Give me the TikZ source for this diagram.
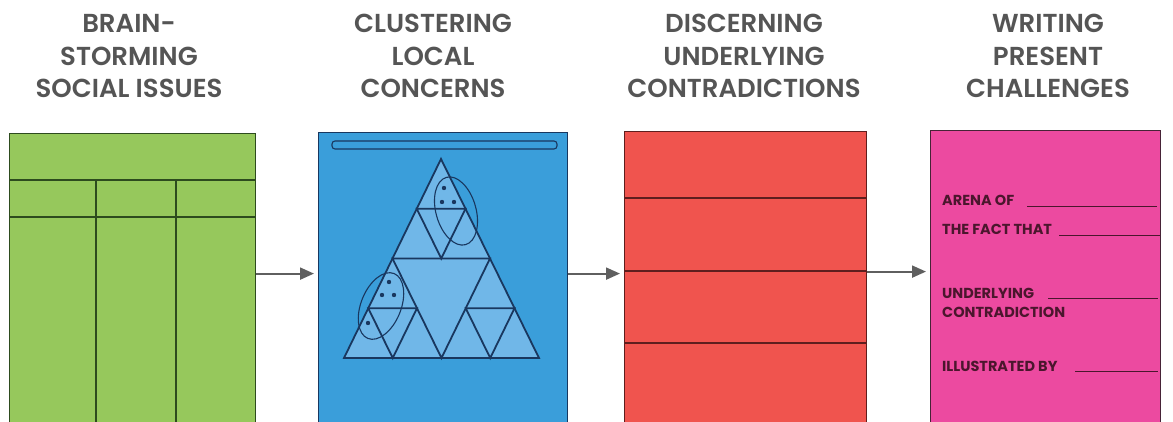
\documentclass[tikz,border=0pt]{standalone}
\usepackage{fontspec}
\newfontfamily\headfont{Poppins SemiBold}
\newfontfamily\formfont{Poppins Bold}
\usetikzlibrary{arrows.meta,calc,positioning}
\definecolor{brgreen}{RGB}{150,200,92}
\definecolor{brline}{RGB}{45,75,30}
\definecolor{clblue}{RGB}{58,158,218}
\definecolor{clline}{RGB}{25,55,95}
\definecolor{triblue}{RGB}{112,183,232}
\definecolor{dcred}{RGB}{240,84,78}
\definecolor{dcline}{RGB}{95,30,30}
\definecolor{wpmagenta}{RGB}{236,74,160}
\definecolor{wpline}{RGB}{70,35,55}
\definecolor{formtext}{RGB}{75,22,45}
\definecolor{headgray}{RGB}{85,85,85}
\definecolor{arrowgray}{RGB}{95,95,95}
\begin{document}
\begin{tikzpicture}[x=1pt, y=-1pt,
    heading/.style={font=\headfont\fontsize{26}{32.5}\selectfont, text=headgray, align=center, anchor=base, inner sep=0pt},
    panel/.style={rectangle, draw, line width=1.2pt, minimum width=#1, minimum height=300pt, anchor=north west, inner sep=0pt},
    grid/.style={line width=1.2pt},
    trim/.style={draw=clline, line width=1.8pt},
    ring/.style={draw=clline, line width=1.1pt},
    formlabel/.style={font=\formfont\fontsize{14.5}{19}\selectfont, text=formtext, align=left, anchor=base west, inner sep=0pt},
    blank/.style={draw=formtext, line width=0.9pt},
    arrow/.style={-{Triangle[length=14pt,width=12pt]}, line width=2pt, draw=arrowgray, shorten >=4pt}
]
\clip (0,0) rectangle (1173,422);
% headings (base = last line)
\node[heading] (h1) at (129,98) {BRAIN-\\STORMING\\SOCIAL ISSUES};
\node[heading] (h2) at (433,98) {CLUSTERING\\LOCAL\\CONCERNS};
\node[heading] (h3) at (744,98) {DISCERNING\\UNDERLYING\\CONTRADICTIONS};
\node[heading] (h4) at (1048,98) {WRITING\\PRESENT\\CHALLENGES};
% panels
\node[panel=246pt, fill=brgreen, draw=brline] (brain) at (9,133) {};
\node[panel=249pt, fill=clblue, draw=clline] (cluster) at (318,132) {};
\node[panel=242pt, fill=dcred, draw=dcline] (discern) at (624,131) {};
\node[panel=230pt, fill=wpmagenta, draw=wpline] (write) at (930,130) {};
% brainstorm table
\draw[grid, draw=brline] (9,180) -- (255,180);
\draw[grid, draw=brline] (9,217) -- (255,217);
\draw[grid, draw=brline] (96,180) -- (96,430);
\draw[grid, draw=brline] (176,180) -- (176,430);
% clusters
\draw[ring, fill=clblue, rounded corners=3pt] (332,141) rectangle (557,149);
\coordinate (A) at (441,159);
\coordinate (B) at (344,358);
\coordinate (C) at (539,358);
\coordinate (ab) at ($(A)!.5!(B)$);
\coordinate (ac) at ($(A)!.5!(C)$);
\coordinate (bc) at ($(B)!.5!(C)$);
\filldraw[trim, fill=triblue] (A) -- (B) -- (C) -- cycle;
\draw[trim] (ab) -- (ac) -- (bc) -- cycle;
\foreach \p/\q/\r in {A/ab/ac, ab/B/bc, ac/bc/C}
  \draw[trim] ($(\p)!.5!(\q)$) -- ($(\q)!.5!(\r)$) -- ($(\r)!.5!(\p)$) -- cycle;
\draw[ring] (456,211) ellipse [x radius=35, y radius=20, rotate=-74];
\draw[ring] (381,306) ellipse [x radius=35, y radius=20, rotate=68];
\foreach \d in {(444,188), (442,202), (454,202), (389,282), (382,295), (394,295), (368,323)}
  \fill[clline] \d circle (2.2);
% contradictions
\foreach \y in {198, 271, 343}
  \draw[grid, draw=dcline] (624,\y) -- (866,\y);
% challenge form
\node[formlabel] (arena) at (942,206) {ARENA OF};
\draw[blank] (1027,206) -- (1157,206);
\node[formlabel] (fact) at (942,235) {THE FACT THAT};
\draw[blank] (1059,235) -- (1160,235);
\node[formlabel] (under) at (942,317) {UNDERLYING\\CONTRADICTION};
\draw[blank] (1048,298) -- (1158,298);
\node[formlabel] (illus) at (942,371) {ILLUSTRATED BY};
\draw[blank] (1075,371) -- (1158,371);
% flow
\draw[arrow] ([yshift=10pt]brain.east) -- ([yshift=9pt]cluster.west);
\draw[arrow] ([yshift=9pt]cluster.east) -- ([yshift=8pt]discern.west);
\draw[arrow] ([yshift=10pt]discern.east) -- ([yshift=9pt]write.west);
\end{tikzpicture}
\end{document}
